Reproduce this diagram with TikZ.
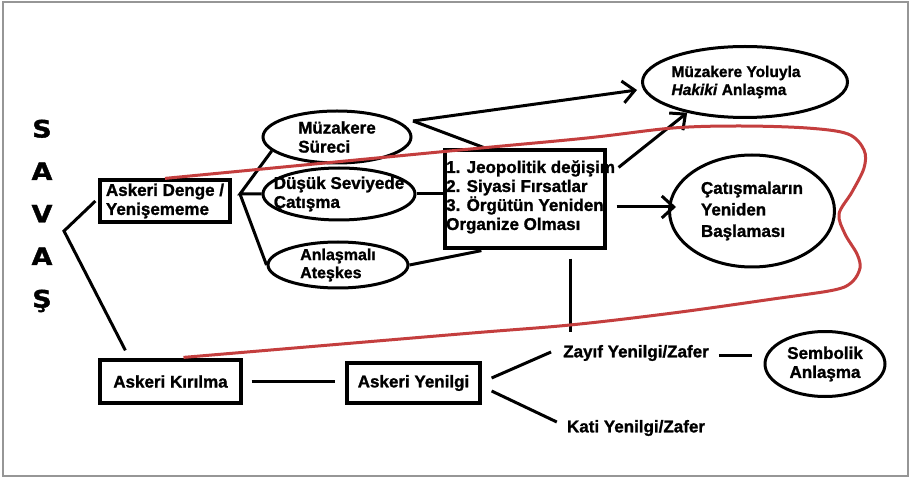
\documentclass[tikz,border=0pt]{standalone}
\usepackage{graphicx}
\usepackage{fontspec}
\setmainfont{Liberation Sans}[BoldFont={Liberation Sans Bold}, ItalicFont={Liberation Sans Italic}, BoldItalicFont={Liberation Sans Bold Italic}, BoldFeatures={FakeBold=1.3}, BoldItalicFeatures={FakeBold=1.3}]
\newfontfamily\savfont{DejaVu Sans Bold}[FakeBold=1.5]
\usetikzlibrary{shapes.geometric,arrows.meta}
\definecolor{redline}{RGB}{196,62,62}
\definecolor{framegray}{RGB}{150,150,150}
\tikzset{
  base/.style={font=\fontsize{17}{19}\selectfont\bfseries},
  boxn/.style={draw, line width=3.2pt, rectangle, inner sep=2pt, align=left, base},
  elln/.style={draw, line width=3pt, ellipse, inner sep=0pt},
  lbl/.style={base, align=left, inner sep=0pt},
  txtn/.style={base, inner sep=2pt},
  con/.style={line width=3pt},
  arr/.style={con, -{Straight Barb[length=12pt,width=22pt,line width=3pt]}},
  redc/.style={draw=redline, line width=3pt}
}
\begin{document}
\begin{tikzpicture}[x=1pt,y=-1pt]
\useasboundingbox (0,0) rectangle (910,478);
\fill[white] (0,0) rectangle (910,478);
\draw[framegray, line width=1.6pt] (3,2) rectangle (908,476);

% SAVAS column
\node[inner sep=0pt] (sav) at (42,214) {\fontsize{24}{42.5}\selectfont\savfont\scalebox{1.12}[1]{\begin{tabular}{@{}c@{}}S\\A\\V\\A\\Ş\end{tabular}}};

% boxes
\node[boxn, minimum width=130pt, minimum height=42pt] (den) at (165,201) {Askeri Denge /\\Yenişememe};
\node[boxn, minimum width=141pt, minimum height=43pt] (kir) at (170.5,381.5) {Askeri Kırılma};
\node[boxn, minimum width=133pt, minimum height=40pt] (yen) at (413.5,383) {Askeri Yenilgi};
\node[draw, line width=3.2pt, minimum width=160pt, minimum height=98pt, inner sep=0pt] (fac) at (525,199) {};
\node[lbl, anchor=west] (factxt) at (446,197) {1. Jeopolitik değişim\\2. Siyasi Fırsatlar\\3. Örgütün Yeniden\\Organize Olması};

% ellipses
\node[elln, minimum width=148pt, minimum height=52pt, label={[lbl]center:Müzakere\\Süreci}] (muz) at (337,137) {};
\node[elln, minimum width=152pt, minimum height=52pt, label={[lbl]center:Düşük Seviyede\\Çatışma}] (dus) at (339,194) {};
\node[elln, minimum width=140pt, minimum height=46pt, label={[lbl, font=\fontsize{16}{18}\selectfont\bfseries]center:Anlaşmalı\\Ateşkes}] (anl) at (338,265) {};
\node[elln, minimum width=205pt, minimum height=71pt, label={[lbl, xshift=-9pt, font=\fontsize{15.5}{18}\selectfont\bfseries]center:Müzakere Yoluyla\\\textit{Hakiki} Anlaşma}] (hak) at (745,82) {};
\node[elln, minimum width=165pt, minimum height=112pt, label={[lbl, font=\fontsize{17}{21.5}\selectfont\bfseries]center:Çatışmaların\\Yeniden\\Başlaması}] (cat) at (752,211) {};
\node[elln, minimum width=120pt, minimum height=65pt, label={[lbl, align=center]center:Sembolik\\Anlaşma}] (sem) at (825,364) {};

% plain texts
\node[txtn] (zay) at (636,353) {Zayıf Yenilgi/Zafer};
\node[txtn] (kat) at (636,428) {Kati Yenilgi/Zafer};

% bracket from SAVAS
\coordinate (v) at (64,231);
\draw[con] ([shift={(-3,0)}]den.west) -- (v) -- ([shift={(27,-8)}]kir.north west);

% fork from Askeri Denge
\coordinate (fork) at (240,194);
\draw[con] (muz.192) -- (fork) -- (dus.west);
\draw[con] (fork) -- (anl.west);

% from Muzakere Sureci
\coordinate (ms) at (413,121);
\draw[con] (ms) -- ([shift={(40,-1)}]fac.north west);
\draw[arr] (ms) -- ([shift={(-4,8)}]hak.west);

% into factor box
\draw[con] (dus.east) -- (dus.east -| fac.west);
\draw[con] (anl.east) -- ([shift={(38,1)}]fac.south west);

% from factor box
\draw[arr] ([shift={(12,19)}]fac.north east) -- (hak.208);
\draw[arr] ([shift={(10,8)}]fac.east) -- ([shift={(8,8)}]fac.east -| cat.west);
\draw[con] ([shift={(45,9)}]fac.south) -- ([shift={(45,-11)}]fac.south |- zay.north);

% lower chain
\draw[con, shorten <=9pt, shorten >=10pt] (kir.east) -- (kir.east -| yen.west);
\draw[con] ([shift={(10,-5)}]yen.east) -- ([shift={(-10,-1)}]zay.west);
\draw[con] ([shift={(10,8)}]yen.east) -- ([shift={(-8,-6)}]kat.west);
\draw[con] ([shift={(8,2)}]zay.east) -- ([shift={(-12,2)}]zay.east -| sem.west);

% red loop
\draw[redc] plot[smooth, tension=0.55] coordinates {(den.north) (460,150) (587,138) (673,128) (740,126) (807,128) (848,134) (864,150) (864,168) (852,192) (839,214) (845,234) (857,254) (860,268) (852,282) (834,290) (773,299) (673,313) (570,325) (460,334) ([shift={(13,-1)}]kir.north)};
\end{tikzpicture}
\end{document}
